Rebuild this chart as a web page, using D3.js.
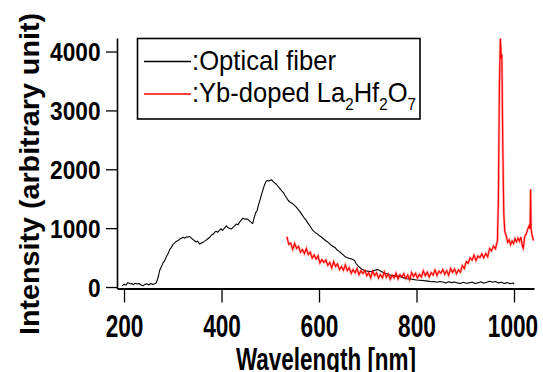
<!DOCTYPE html>
<html>
<head>
<meta charset="utf-8">
<script src="https://cdn.jsdelivr.net/npm/d3@7"></script>
<style>
  html, body { margin: 0; padding: 0; background: #fff; }
  svg { display: block; }
</style>
</head>
<body>
<svg id="chart" width="543" height="372"></svg>
<script>
// Emission spectra: optical fiber background vs. Yb-doped La2Hf2O7
const xTicks = [200, 400, 600, 800, 1000];
const yTicks = [0, 1000, 2000, 3000, 4000];

const fiberWavelength = [196,200,204,208,212,216,219,223,227,231,235,239,243,247,251,255,259,263,266,268,271,273,276,280,283,286,290,294,297,300,304,307,311,314,318,321,325,328,331,334,338,341,344,348,351,355,358,362,365,369,372,376,379,383,386,389,392,396,399,402,406,410,413,416,420,423,427,430,434,437,441,444,448,451,454,458,462,464,467,470,473,476,479,482,485,488,491,494,497,500,503,506,509,512,515,518,521,524,527,530,533,537,541,545,549,553,557,561,565,569,573,577,581,585,589,593,597,601,605,609,613,617,621,625,629,633,637,641,645,649,653,657,661,665,669,673,676,680,684,688,692,696,700,704,708,712,716,720,724,728,732,736,740,744,748,752,756,760,764,768,772,776,780,784,788,792,796,800,806,812,818,824,830,836,842,848,854,860,866,872,878,884,890,896,902,908,914,920,926,932,938,944,950,956,962,968,974,980,986,992,998,1000];
const fiberIntensity = [20,45,35,75,55,60,40,65,50,60,35,20,45,55,35,60,45,55,70,110,200,280,330,410,440,500,560,640,670,720,750,775,790,815,830,845,830,855,845,860,835,810,790,765,780,730,745,760,775,800,820,845,880,900,930,950,930,965,990,960,1000,1040,1010,1000,985,1010,1040,1070,1060,1100,1140,1170,1150,1160,1150,1120,1090,1080,1180,1260,1300,1400,1480,1570,1650,1730,1790,1810,1800,1815,1820,1790,1770,1750,1720,1690,1660,1630,1605,1560,1520,1470,1440,1420,1390,1360,1320,1280,1230,1180,1140,1090,1040,990,950,920,900,870,850,820,790,770,740,710,690,670,630,610,580,550,520,500,490,480,470,450,400,360,330,300,285,275,270,265,260,275,290,300,280,265,245,230,225,210,200,195,185,190,180,170,160,150,140,135,140,130,125,120,115,110,105,100,90,95,80,95,85,70,90,75,85,70,60,80,65,70,85,60,70,90,65,80,100,80,95,70,80,60,75,55,70,50];

const ybWavelength = [534,538,542,546,550,554,558,562,566,570,574,578,582,586,590,594,598,602,606,610,614,618,622,626,630,634,638,642,646,650,654,658,662,666,670,674,678,682,686,690,694,698,702,706,710,714,718,722,726,730,734,738,742,746,750,754,758,762,766,770,774,778,782,786,790,794,798,802,806,810,814,818,822,826,830,834,838,842,846,850,854,858,862,866,870,874,878,882,886,890,894,898,902,906,910,914,918,922,926,930,934,938,942,946,950,954,958,962,966,968,970,972,974,975,977,979,981,984,987,990,993,996,999,1002,1005,1008,1011,1014,1017,1019,1022,1025,1028,1031,1033,1034,1035,1037,1040];
const ybIntensity = [855,725,745,640,740,655,690,590,635,570,654,553,592,491,545,475,530,410,465,418,461,369,415,325,430,350,390,295,345,285,375,280,326,233,295,242,314,211,274,232,280,193,243,159,270,196,242,153,210,157,254,166,219,133,202,156,235,139,208,172,226,146,203,126,245,179,233,152,216,170,274,193,252,171,245,204,288,196,269,237,295,218,276,199,317,251,305,225,292,250,365,315,430,405,495,458,542,451,527,500,563,495,570,515,655,615,695,650,790,1500,3400,4220,3880,3950,2400,1250,950,870,760,800,720,780,740,820,770,830,780,850,700,660,860,900,980,1040,990,1660,1000,880,790];

const fiber = fiberWavelength.map((w, i) => [w, fiberIntensity[i]]);
const yb = ybWavelength.map((w, i) => [w, ybIntensity[i]]);

const svg = d3.select("#chart");

const x = d3.scaleLinear().domain([185.6, 1041]).range([117, 534]);
const y = d3.scaleLinear().domain([-25, 4230]).range([288.5, 38]);

const boldFont = "'Liberation Sans', Arial, sans-serif";

// axes
const yAxis = svg.append("g")
  .attr("transform", `translate(${x.range()[0]},0)`)
  .call(d3.axisLeft(y).tickValues(yTicks).tickSize(11).tickSizeOuter(0).tickFormat(d3.format("d")));
yAxis.select(".domain").attr("stroke", "#000").attr("stroke-width", 1.6);
yAxis.selectAll(".tick line").attr("stroke", "#000").attr("stroke-width", 1.3);
yAxis.selectAll(".tick text")
  .attr("x", -16.5).attr("dy", null).attr("y", 9)
  .attr("text-anchor", "end")
  .attr("font-family", boldFont).attr("font-weight", "bold")
  .attr("font-size", 25).attr("fill", "#000")
  .attr("textLength", d => String(d).length * 12.6)
  .attr("lengthAdjust", "spacingAndGlyphs");

const xAxis = svg.append("g")
  .attr("transform", `translate(0,${y.range()[0]})`)
  .call(d3.axisBottom(x).tickValues(xTicks).tickSize(14).tickSizeOuter(0).tickFormat(d3.format("d")));
xAxis.select(".domain").attr("stroke", "#000").attr("stroke-width", 2);
xAxis.selectAll(".tick line").attr("stroke", "#000").attr("stroke-width", 1.3);
xAxis.selectAll(".tick text")
  .attr("y", 48.5).attr("dy", null)
  .attr("text-anchor", "middle")
  .attr("font-family", boldFont).attr("font-weight", "bold")
  .attr("font-size", 30.7).attr("fill", "#000")
  .attr("textLength", d => String(d).length * 12.6)
  .attr("lengthAdjust", "spacingAndGlyphs");
// keep the last label inside the canvas edge
xAxis.selectAll(".tick text").filter(d => d === 1000).attr("dx", -1.5);

// axis titles
svg.append("text")
  .attr("x", 236).attr("y", 369.5)
  .attr("font-family", boldFont).attr("font-weight", "bold")
  .attr("font-size", 32).attr("fill", "#000")
  .attr("textLength", 180).attr("lengthAdjust", "spacingAndGlyphs")
  .text("Wavelength [nm]");

svg.append("text")
  .attr("transform", "translate(39,335) rotate(-90)")
  .attr("font-family", boldFont).attr("font-weight", "bold")
  .attr("font-size", 27.5).attr("fill", "#000")
  .attr("textLength", 322).attr("lengthAdjust", "spacingAndGlyphs")
  .text("Intensity (arbitrary unit)");

// spectra
const line = d3.line().x(d => x(d[0])).y(d => y(d[1]));

svg.append("path").datum(fiber)
  .attr("d", line).attr("fill", "none")
  .attr("stroke", "#000").attr("stroke-width", 1.1).attr("stroke-linejoin", "round");

// soft halo under the noisy red trace
svg.append("path").datum(yb)
  .attr("d", line).attr("fill", "none")
  .attr("stroke", "rgba(255,0,0,0.28)").attr("stroke-width", 2.6).attr("stroke-linejoin", "miter");
svg.append("path").datum(yb)
  .attr("d", line).attr("fill", "none")
  .attr("stroke", "#ff0000").attr("stroke-width", 1.2).attr("stroke-linejoin", "miter");

// legend
const lg = svg.append("g");
lg.append("rect")
  .attr("x", 137.5).attr("y", 38.5).attr("width", 282.5).attr("height", 80.5)
  .attr("fill", "#fff").attr("stroke", "#000").attr("stroke-width", 1.6);

const legendFont = "'Liberation Sans', Arial, sans-serif";

// fit a text element horizontally into a given width starting at x0
function fitText(sel, x0, baseline, width) {
  const w = sel.node().getComputedTextLength();
  sel.attr("transform", `translate(${x0},${baseline}) scale(${width / w},1)`);
}

lg.append("line").attr("x1", 144).attr("x2", 191).attr("y1", 61.5).attr("y2", 61.5)
  .attr("stroke", "#000").attr("stroke-width", 1.5);
const t1 = lg.append("text")
  .attr("font-family", legendFont).attr("font-size", 27).attr("fill", "#000")
  .text(":Optical fiber");
fitText(t1, 192, 70, 144);

lg.append("line").attr("x1", 144).attr("x2", 191).attr("y1", 94).attr("y2", 94)
  .attr("stroke", "#ff0000").attr("stroke-width", 1.5);
const t2 = lg.append("text")
  .attr("font-family", legendFont).attr("font-size", 27).attr("fill", "#000");
t2.append("tspan").text(":Yb-doped La");
t2.append("tspan").attr("font-size", 16).attr("dy", 8).text("2");
t2.append("tspan").attr("dy", -8).text("Hf");
t2.append("tspan").attr("font-size", 16).attr("dy", 8).text("2");
t2.append("tspan").attr("dy", -8).text("O");
t2.append("tspan").attr("font-size", 16).attr("dy", 8).text("7");
fitText(t2, 192, 101.5, 224);
</script>
</body>
</html>
